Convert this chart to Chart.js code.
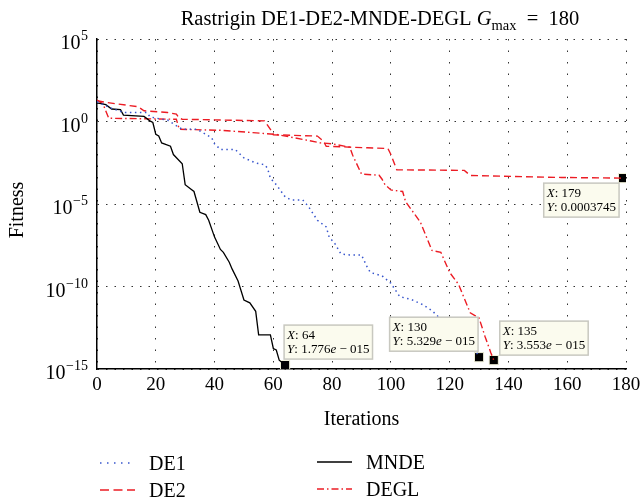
<!DOCTYPE html>
<html>
<head>
<meta charset="utf-8">
<script src="https://cdn.jsdelivr.net/npm/chart.js@4.4.1/dist/chart.umd.min.js"></script>
<style>
    html, body { margin: 0; padding: 0; background: #fff; }
    #wrap { width: 640px; height: 501px; }
</style>
</head>
<body>
<div id="wrap"><canvas id="chartFitness" width="640" height="501"></canvas></div>
<script>
// values (fitness on a log axis)
const de1Iter = [0, 5, 9, 17, 18, 20, 24, 28, 29, 34, 37, 39, 40, 42, 47, 50, 54, 57, 58, 59, 61, 64, 66, 70, 72, 75, 78, 79, 81, 83, 86, 90, 92, 93, 97, 100, 103, 107, 111, 114, 116, 120, 124, 128, 130];
const de1Fit = [15.8, 6.3, 3.55, 3.55, 1.95, 1.62, 1.23, 0.43, 0.34, 0.34, 0.17, 0.105, 0.045, 0.0204, 0.0204, 6.3e-3, 3.1e-3, 2.45e-3, 1.5e-3, 3.7e-4, 1.5e-4, 2.8e-5, 1.8e-5, 1.8e-5, 6.9e-6, 1.05e-6, 4.1e-7, 1e-7, 3.9e-8, 9.5e-9, 8.3e-9, 8.3e-9, 1.45e-9, 7.2e-10, 4.5e-10, 1.6e-10, 2.5e-11, 1.65e-11, 7.9e-12, 3.5e-12, 1.6e-12, 5e-13, 1.26e-13, 2.5e-14, 5.329e-15];

const de2Iter = [0, 3, 14, 16, 24, 27, 28, 29, 57, 59, 60, 75, 77, 78, 92, 99, 100, 102, 125, 127, 158, 179];
const de2Fit = [18.6, 14.5, 7.9, 4.5, 3.55, 2.8, 1.58, 1.38, 1.1, 0.34, 0.158, 0.132, 0.066, 0.032, 0.0257, 0.0234, 0.01, 1.2e-3, 1.1e-3, 5.4e-4, 4.1e-4, 3.745e-4];

const mndeIter = [0, 1, 3, 5, 8, 9, 16, 18, 19, 20, 21, 22, 25, 26, 29, 30, 32, 33, 35, 37, 38, 40, 42, 43, 45, 46, 48, 50, 52, 54, 55, 59, 60, 61, 62, 64];
const mndeFit = [13.2, 12.6, 10.5, 5.75, 5.25, 2.45, 2.04, 1.1, 0.87, 0.17, 0.132, 0.051, 0.032, 0.01, 2.8e-3, 1.5e-4, 7.9e-5, 5.8e-5, 3.2e-6, 2.3e-6, 1.05e-6, 1e-7, 1.8e-8, 1.2e-8, 3e-9, 1.15e-9, 2.2e-10, 1.55e-11, 1.05e-11, 3.2e-12, 1.2e-13, 1.2e-13, 1.8e-14, 1.45e-14, 3.5e-15, 1.776e-15];

const deglIter = [0, 2, 4, 27, 28, 42, 53, 61, 70, 76, 80, 86, 87, 90, 96, 97, 98, 100, 104, 105, 110, 114, 117, 120, 123, 127, 130, 132, 134, 135];
const deglFit = [20, 12, 1.58, 1.38, 0.34, 0.295, 0.214, 0.166, 0.083, 0.051, 0.045, 0.028, 9.1e-3, 6.6e-4, 5.6e-4, 3.2e-4, 1.5e-4, 7.2e-5, 5.8e-5, 1.4e-5, 8.3e-7, 1.55e-8, 1.2e-8, 7.2e-10, 1.4e-10, 2.6e-12, 1.26e-12, 1e-13, 1e-14, 3.553e-15];

// data tips
const tipIter = [64, 130, 135, 179];
const tipFit = [1.776e-15, 5.329e-15, 3.553e-15, 0.0003745];
const tipMantissa = ['1.776', '5.329', '3.553', '0.0003745'];
const tipExponent = ['015', '015', '015', ''];

const yTickExponents = [5, 0, -5, -10, -15];

const SERIF = '"Liberation Serif", "Times New Roman", serif';
const RED = 'rgb(236, 28, 36)';
const BLUE = 'rgb(55, 85, 205)';

// where each tip box sits relative to its marker
const tipPlacement = [
    {dx: -1, dy: -40, side: 'left'},
    {dx: -1, dy: -40, side: 'right'},
    {dx: 6, dy: -39, side: 'left'},
    {dx: -4, dy: 5, side: 'right'},
];

function toPoints(xs, ys) {
    return xs.map((x, i) => ({x: x, y: ys[i]}));
}

const decorations = {
    id: 'decorations',
    afterDraw(chart) {
        const ctx = chart.ctx;
        const yScale = chart.scales.y;
        const xScale = chart.scales.x;
        ctx.save();
        ctx.fillStyle = '#000';
        ctx.textBaseline = 'alphabetic';

        // title with subscript
        const parts = [
            {t: 'Rastrigin DE1-DE2-MNDE-DEGL ', f: `20.5px ${SERIF}`, dy: 0},
            {t: 'G', f: `italic 20.5px ${SERIF}`, dy: 0},
            {t: 'max', f: `14.5px ${SERIF}`, dy: 5},
            {t: '\u2002=\u2002180', f: `20.5px ${SERIF}`, dy: 0},
        ];
        let total = 0;
        parts.forEach((p) => {
            ctx.font = p.f;
            p.w = ctx.measureText(p.t).width;
            total += p.w;
        });
        let tx = 380 - total / 2;
        parts.forEach((p) => {
            ctx.font = p.f;
            ctx.textAlign = 'left';
            ctx.fillText(p.t, tx, 25 + p.dy);
            tx += p.w;
        });

        // y tick labels 10^n
        yTickExponents.forEach((e) => {
            const py = yScale.getPixelForValue(Math.pow(10, e));
            const expText = String(e).replace('-', '\u2212');
            ctx.font = `14px ${SERIF}`;
            const ew = ctx.measureText(expText).width;
            ctx.textAlign = 'left';
            ctx.fillText(expText, 88 - ew, py + 1);
            ctx.font = `20px ${SERIF}`;
            ctx.textAlign = 'right';
            ctx.fillText('10', 88 - ew - 0.5, py + 10);
        });

        // y axis title
        ctx.save();
        ctx.translate(23, 210);
        ctx.rotate(-Math.PI / 2);
        ctx.font = `20px ${SERIF}`;
        ctx.textAlign = 'center';
        ctx.fillText('Fitness', 0, 0);
        ctx.restore();

        // data tips
        tipIter.forEach((it, i) => {
            const mx = xScale.getPixelForValue(it);
            const my = yScale.getPixelForValue(tipFit[i]);
            const line1 = [{t: 'X', i: true}, {t: ': ' + it, i: false}];
            const line2 = [{t: 'Y', i: true}, {t: ': ' + tipMantissa[i], i: false}];
            if (tipExponent[i] !== '') {
                line2.push({t: 'e', i: true});
                line2.push({t: ' \u2212 ' + tipExponent[i], i: false});
            }
            const measure = (segs) => segs.reduce((s, seg) => {
                ctx.font = (seg.i ? 'italic ' : '') + `13px ${SERIF}`;
                return s + ctx.measureText(seg.t).width;
            }, 0);
            const w = Math.max(measure(line1), measure(line2)) + 6;
            const h = 34;
            const pl = tipPlacement[i];
            const bx = pl.side === 'left' ? mx + pl.dx : mx + pl.dx - w;
            const by = my + pl.dy;
            ctx.fillStyle = '#fbfbee';
            ctx.fillRect(bx, by, w, h);
            ctx.strokeStyle = '#c8c8c0';
            ctx.lineWidth = 1.5;
            ctx.strokeRect(bx, by, w, h);
            ctx.fillStyle = '#000';
            ctx.textAlign = 'left';
            [line1, line2].forEach((segs, li) => {
                let lx = bx + 3;
                segs.forEach((seg) => {
                    ctx.font = (seg.i ? 'italic ' : '') + `13px ${SERIF}`;
                    ctx.fillText(seg.t, lx, by + 14 + li * 14);
                    lx += ctx.measureText(seg.t).width;
                });
            });
        });

        // legend
        const legendItems = [
            {label: 'DE1', color: BLUE, dash: [1.5, 5.5], x: 100, y: 463},
            {label: 'DE2', color: RED, dash: [9, 4.5], x: 100, y: 490},
            {label: 'MNDE', color: '#000', dash: [], x: 317, y: 462},
            {label: 'DEGL', color: RED, dash: [7, 3, 1.5, 3], x: 317, y: 489},
        ];
        legendItems.forEach((item) => {
            ctx.save();
            ctx.strokeStyle = item.color;
            ctx.lineWidth = 1.4;
            ctx.setLineDash(item.dash);
            ctx.beginPath();
            ctx.moveTo(item.x, item.y);
            ctx.lineTo(item.x + 35, item.y);
            ctx.stroke();
            ctx.restore();
            ctx.font = `20px ${SERIF}`;
            ctx.textAlign = 'left';
            ctx.fillText(item.label, item.x + 49, item.y + 7);
        });
        ctx.restore();
    }
};

const fitnessChart = new Chart(document.getElementById('chartFitness').getContext('2d'), {
    type: 'line',
    data: {
        datasets: [
            {
                label: 'DE1',
                data: toPoints(de1Iter, de1Fit),
                borderColor: BLUE,
                borderWidth: 1.5,
                borderDash: [1.5, 3.5],
                pointRadius: 0,
            },
            {
                label: 'DE2',
                data: toPoints(de2Iter, de2Fit),
                borderColor: RED,
                borderWidth: 1.4,
                borderDash: [7, 4],
                pointRadius: 0,
            },
            {
                label: 'MNDE',
                data: toPoints(mndeIter, mndeFit),
                borderColor: '#000',
                borderWidth: 1.3,
                pointRadius: 0,
            },
            {
                label: 'DEGL',
                data: toPoints(deglIter, deglFit),
                borderColor: RED,
                borderWidth: 1.4,
                borderDash: [7, 3, 1.5, 3],
                pointRadius: 0,
            },
            {
                label: 'tips',
                data: toPoints(tipIter, tipFit),
                showLine: false,
                pointStyle: 'rect',
                pointRadius: 6.5,
                pointBackgroundColor: '#000',
                pointBorderColor: '#f4f4dc',
                pointBorderWidth: 1,
            },
        ]
    },
    options: {
        responsive: false,
        animation: false,
        devicePixelRatio: 1,
        layout: {padding: {left: 97, right: 14, top: 39, bottom: 69}},
        plugins: {
            legend: {display: false},
            title: {display: false},
            tooltip: {enabled: false},
        },
        scales: {
            x: {
                type: 'linear',
                min: 0,
                max: 180,
                afterFit: (axis) => {
                    axis.paddingRight = 14;
                },
                ticks: {
                    stepSize: 20,
                    color: '#000',
                    padding: 4,
                    font: {family: SERIF, size: 19},
                },
                grid: {color: '#333', lineWidth: 1, drawTicks: false},
                border: {display: true, color: '#000', width: 1.5, dash: [1.5, 10]},
                title: {
                    display: true,
                    text: 'Iterations',
                    color: '#000',
                    font: {family: SERIF, size: 20},
                    padding: {top: 8, bottom: 0},
                },
            },
            y: {
                type: 'logarithmic',
                min: 1e-15,
                max: 1e5,
                afterBuildTicks: (axis) => {
                    axis.ticks = yTickExponents.map((e) => ({value: Math.pow(10, e)}));
                },
                afterFit: (axis) => {
                    axis.width = 0;
                },
                ticks: {display: false},
                grid: {color: '#333', lineWidth: 1, drawTicks: false},
                border: {display: true, color: '#000', width: 1.5, dash: [1.5, 7]},
            },
        },
    },
    plugins: [decorations],
});
</script>
</body>
</html>
